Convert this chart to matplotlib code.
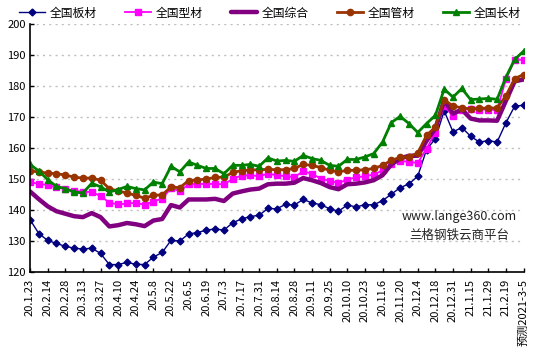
import matplotlib
matplotlib.use('Agg')
import matplotlib.pyplot as plt

plt.rcParams['font.family'] = ['Noto Sans CJK SC', 'DejaVu Sans']

# tick labels, one for every second week
tick_labels = ['20.1.23', '20.2.14', '20.2.28', '20.3.13', '20.3.27', '20.4.10', '20.4.24',
               '20.5.8', '20.5.22', '20.6.5', '20.6.19', '20.7.3', '20.7.17', '20.7.31',
               '20.8.14', '20.8.28', '20.9.11', '20.9.25', '20.10.10', '20.10.23', '20.11.6',
               '20.11.20', '20.12.4', '20.12.18', '20.12.31', '21.1.15', '21.1.29', '21.2.19',
               '预测2021-3-5']

plate = [136.9, 132.4, 130.2, 129.2, 128.3, 127.7, 127.4, 127.7, 126.0, 122.4,
         122.4, 123.1, 122.5, 122.4, 124.8, 126.3, 130.2, 130.0, 132.3, 132.7,
         133.5, 133.9, 133.5, 135.9, 137.1, 137.9, 138.3, 140.5, 140.4, 141.8,
         141.6, 143.4, 142.3, 141.7, 140.4, 139.6, 141.6, 141.0, 141.7, 141.7,
         143.0, 145.1, 147.2, 148.4, 150.9, 159.5, 163.0, 172.0, 165.2, 166.6,
         163.8, 161.9, 162.4, 161.9, 168.1, 173.5, 173.8]

section = [149.0, 148.4, 148.1, 147.3, 146.8, 146.2, 145.9, 145.8, 144.5, 142.4,
           141.8, 142.1, 142.3, 141.7, 142.7, 143.7, 147.0, 146.1, 148.3, 148.4,
           148.4, 148.4, 148.3, 150.0, 151.1, 151.2, 150.9, 151.7, 151.2, 150.9,
           150.6, 152.5, 151.7, 150.1, 149.4, 148.7, 149.8, 150.5, 150.9, 151.4,
           152.8, 154.7, 155.9, 155.5, 155.2, 159.8, 165.0, 173.5, 170.3, 172.2,
           172.6, 172.4, 172.4, 172.2, 182.1, 188.4, 188.5]

overall = [146.0, 143.5, 141.2, 139.6, 138.8, 138.0, 137.7, 139.0, 137.7, 134.7,
           135.1, 135.8, 135.4, 134.8, 136.6, 137.1, 141.6, 140.8, 143.4, 143.4,
           143.4, 143.6, 142.9, 145.3, 146.0, 146.6, 146.9, 148.3, 148.5, 148.5,
           148.8, 150.3, 149.6, 148.7, 147.4, 146.7, 148.3, 148.5, 148.9, 149.6,
           151.2, 154.7, 156.6, 157.5, 157.5, 162.3, 166.3, 175.4, 171.1, 172.4,
           169.5, 168.9, 168.9, 168.8, 175.2, 181.5, 182.1]

pipe = [152.6, 152.3, 151.9, 151.7, 151.3, 150.6, 150.3, 150.3, 149.6, 146.9,
        146.1, 145.5, 144.7, 143.8, 144.7, 144.9, 147.4, 147.2, 149.5, 149.7,
        150.0, 150.5, 150.6, 152.1, 152.7, 152.9, 153.0, 153.1, 153.0, 153.0,
        153.4, 154.7, 154.4, 153.7, 152.8, 152.3, 152.8, 152.8, 153.0, 153.4,
        154.4, 156.0, 157.0, 157.1, 158.4, 164.1, 166.7, 175.6, 173.5, 173.0,
        172.6, 172.8, 172.9, 172.9, 176.8, 182.4, 183.7]

long_prod = [154.7, 152.6, 149.8, 147.6, 146.9, 145.8, 145.5, 148.6, 147.5, 145.8,
             146.6, 147.6, 146.9, 146.5, 149.0, 148.5, 154.1, 152.3, 155.5, 154.4,
             153.4, 153.4, 151.7, 154.4, 154.4, 154.7, 154.1, 156.8, 155.8, 156.0,
             155.7, 157.6, 156.6, 156.0, 154.4, 154.1, 156.3, 156.3, 157.1, 158.2,
             161.9, 168.2, 170.2, 167.9, 165.0, 167.9, 170.5, 179.0, 176.4, 179.2,
             175.6, 175.8, 176.0, 175.7, 182.8, 188.6, 191.2]

x = list(range(len(plate)))

fig = plt.figure(figsize=(5.35, 3.53), dpi=100)
ax = fig.add_axes([30 / 535, 1 - 272 / 353, 493.5 / 535, 248 / 353])

ax.plot(x, plate, color='#000080', lw=1.0, marker='D', ms=3.5, label='全国板材')
ax.plot(x, section, color='#FF00FF', lw=1.3, marker='s', ms=4.5, label='全国型材')
ax.plot(x, overall, color='#800080', lw=3.2, label='全国综合', solid_capstyle='round')
ax.plot(x, pipe, color='#993300', lw=2.0, marker='o', ms=4.5, label='全国管材')
ax.plot(x, long_prod, color='#008000', lw=2.0, marker='^', ms=5, label='全国长材')

ax.set_xlim(0, 56)
ax.set_ylim(120, 200)
ax.set_yticks(range(120, 201, 10))
ax.set_xticks(range(0, 57, 2))
ax.set_xticklabels(tick_labels, rotation=90)
ax.tick_params(axis='both', direction='in', length=3, width=1, labelsize=8, colors='black')
ax.tick_params(axis='x', pad=5)
ax.tick_params(axis='y', pad=3)

ax.grid(axis='y', color='#BFBFBF', linestyle=(0, (1.5, 3)), lw=1)
ax.set_axisbelow(True)
for s in ['top', 'right']:
    ax.spines[s].set_visible(False)
for s in ['left', 'bottom']:
    ax.spines[s].set_linewidth(1.2)
    ax.spines[s].set_color('black')

fig.legend(loc='center', bbox_to_anchor=(0.505, 0.963), ncol=5, frameon=False,
           fontsize=8.5, handlelength=2.2, handletextpad=0.4, columnspacing=2.4)

# watermark
fig.text(459 / 535, 1 - 216.5 / 353, 'www.lange360.com', fontsize=9, ha='center', va='center',
         color='#222222')
fig.text(459 / 535, 1 - 235 / 353, '兰格钢铁云商平台', fontsize=9, ha='center', va='center',
         color='#222222')

fig.savefig('out.png', dpi=100)
